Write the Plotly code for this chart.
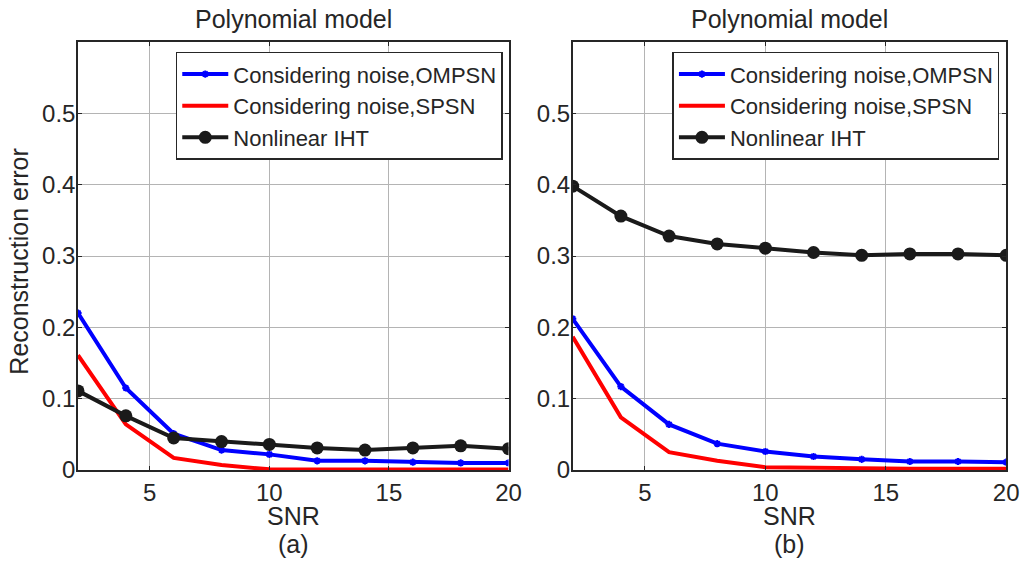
import plotly.graph_objects as go

snr = [2, 4, 6, 8, 10, 12, 14, 16, 18, 20]

a_ompsn = [0.220, 0.115, 0.051, 0.028, 0.022, 0.013, 0.013, 0.011, 0.010, 0.010]
a_spsn = [0.161, 0.064, 0.017, 0.007, 0.001, 0.0008, 0.0008, 0.0008, 0.0008, 0.0008]
a_iht = [0.111, 0.076, 0.045, 0.040, 0.036, 0.031, 0.028, 0.031, 0.034, 0.030]

b_ompsn = [0.212, 0.117, 0.064, 0.037, 0.026, 0.019, 0.015, 0.012, 0.012, 0.011]
b_spsn = [0.187, 0.074, 0.025, 0.013, 0.004, 0.003, 0.002, 0.002, 0.002, 0.002]
b_iht = [0.398, 0.356, 0.328, 0.317, 0.311, 0.305, 0.301, 0.303, 0.303, 0.301]

names = ["Considering noise,OMPSN", "Considering noise,SPSN", "Nonlinear IHT"]
titles = ["Polynomial model", "Polynomial model"]
xtick_vals = [5, 10, 15, 20]
ytick_vals = [0, 0.1, 0.2, 0.3, 0.4, 0.5]
ytick_text = ["0", "0.1", "0.2", "0.3", "0.4", "0.5"]

FONT = "Liberation Sans, Arial, sans-serif"
TXT = "#262626"
W, H = 1034, 572

fig = go.Figure()

panels = [
    (a_ompsn, a_spsn, a_iht, "x", "y", "legend"),
    (b_ompsn, b_spsn, b_iht, "x2", "y2", "legend2"),
]
for ompsn, spsn, iht, xa, ya, lg in panels:
    fig.add_trace(go.Scatter(x=snr, y=ompsn, name=names[0], mode="lines+markers",
                             line=dict(color="#0000ff", width=4),
                             marker=dict(symbol="asterisk-open", size=6,
                                         line=dict(color="#0000ff", width=2)),
                             xaxis=xa, yaxis=ya, legend=lg))
    fig.add_trace(go.Scatter(x=snr, y=spsn, name=names[1], mode="lines",
                             line=dict(color="#ff0000", width=4),
                             xaxis=xa, yaxis=ya, legend=lg))
    fig.add_trace(go.Scatter(x=snr, y=iht, name=names[2], mode="lines+markers",
                             line=dict(color="#1a1a1a", width=4),
                             marker=dict(symbol="circle", size=13, color="#1a1a1a"),
                             xaxis=xa, yaxis=ya, legend=lg))

xl = [79 / W, 515 / W]
xr = [580 / W, 1019 / W]
yd = [1 - 481 / H, 1 - 43 / H]

axis_common = dict(showgrid=True, gridcolor="#b4b4b4", gridwidth=1,
                   showline=True, linecolor=TXT, linewidth=1.5, mirror="ticks",
                   ticks="inside", ticklen=4, tickcolor=TXT,
                   tickfont=dict(family=FONT, size=24, color=TXT), zeroline=False)

leg_common = dict(xanchor="left", yanchor="top", bgcolor="white", bordercolor=TXT,
                  borderwidth=1.5, font=dict(family=FONT, size=22, color=TXT),
                  itemwidth=46, tracegroupgap=0)

fig.update_layout(
    width=W, height=H, margin=dict(l=0, r=0, t=0, b=0),
    plot_bgcolor="white", paper_bgcolor="white",
    xaxis=dict(domain=xl, range=[2, 20], tickvals=xtick_vals, anchor="y", **axis_common),
    yaxis=dict(domain=yd, range=[0, 0.6], tickvals=ytick_vals, ticktext=ytick_text,
               anchor="x", ticklabelstandoff=-4, **axis_common),
    xaxis2=dict(domain=xr, range=[2, 20], tickvals=xtick_vals, anchor="y2", **axis_common),
    yaxis2=dict(domain=yd, range=[0, 0.6], tickvals=ytick_vals, ticktext=ytick_text,
                anchor="x2", ticklabelstandoff=-4, **axis_common),
    legend=dict(x=178 / W, y=1 - 53 / H, **leg_common),
    legend2=dict(x=681 / W, y=1 - 53 / H, **leg_common),
    showlegend=True,
)

ann_font = dict(family=FONT, size=25, color=TXT)
anns = [
    dict(text=titles[0], x=(xl[0] + xl[1]) / 2, y=1 - 19 / H),
    dict(text=titles[1], x=(xr[0] + xr[1]) / 2, y=1 - 19 / H),
    dict(text="SNR", x=(xl[0] + xl[1]) / 2, y=1 - 528 / H),
    dict(text="SNR", x=(xr[0] + xr[1]) / 2, y=1 - 528 / H),
    dict(text="(a)", x=(xl[0] + xl[1]) / 2, y=1 - 557 / H),
    dict(text="(b)", x=(xr[0] + xr[1]) / 2, y=1 - 557 / H),
]
for a in anns:
    fig.add_annotation(xref="paper", yref="paper", showarrow=False, font=ann_font,
                       xanchor="center", yanchor="middle", **a)
fig.add_annotation(text="Reconstruction error", xref="paper", yref="paper",
                   x=19 / W, y=1 - 268 / H, textangle=-90, showarrow=False,
                   font=ann_font, xanchor="center", yanchor="middle")

fig.write_html("out.html")
